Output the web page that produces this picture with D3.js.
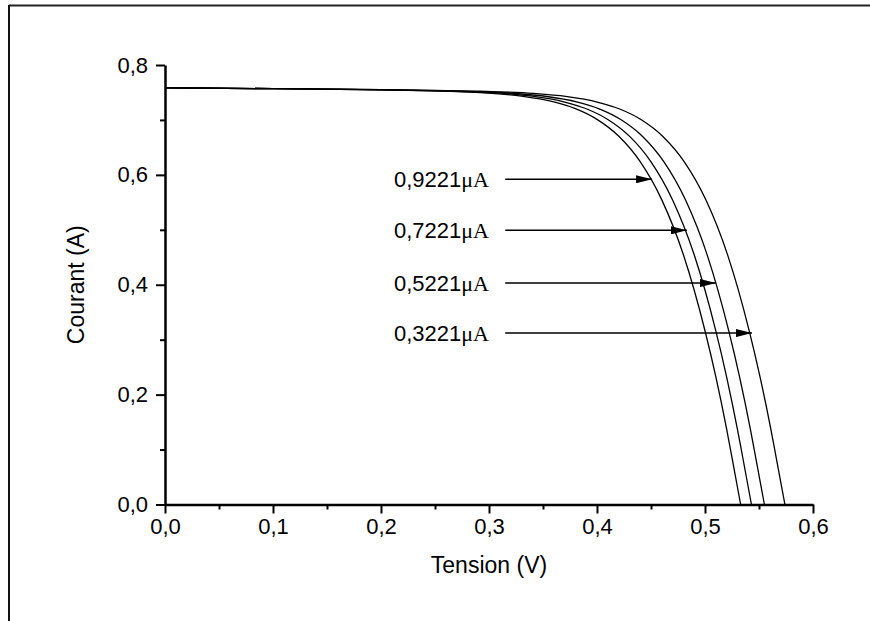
<!DOCTYPE html>
<html>
<head>
<meta charset="utf-8">
<script src="https://cdn.jsdelivr.net/npm/d3@7"></script>
<style>
  body { margin: 0; background: #fff; }
  svg text { font-family: "Liberation Sans", Arial, sans-serif; fill: #000; }
</style>
</head>
<body>
<div id="chart"></div>
<script>
// I-V curves, values (V in volts, I in amperes)
var v1 = [0, 0.1, 0.2, 0.25, 0.3, 0.33, 0.36, 0.38, 0.40, 0.42, 0.44, 0.46, 0.48, 0.50, 0.51, 0.52, 0.525, 0.533];
var i1 = [0.7586, 0.7569, 0.7547, 0.7529, 0.7489, 0.7435, 0.7328, 0.7206, 0.7011, 0.6707, 0.6240, 0.5545, 0.4547, 0.3163, 0.2327, 0.1376, 0.0853, 0];

var v2 = [0, 0.1, 0.2, 0.26, 0.31, 0.34, 0.37, 0.39, 0.41, 0.43, 0.45, 0.47, 0.49, 0.51, 0.52, 0.53, 0.535, 0.543];
var i2 = [0.7586, 0.7569, 0.7548, 0.7527, 0.7487, 0.7433, 0.7326, 0.7204, 0.7009, 0.6705, 0.6238, 0.5543, 0.4545, 0.3161, 0.2325, 0.1374, 0.0851, 0];

var v3 = [0, 0.1, 0.2, 0.25, 0.272, 0.322, 0.352, 0.382, 0.402, 0.422, 0.442, 0.462, 0.482, 0.502, 0.522, 0.532, 0.542, 0.547, 0.555];
var i3 = [0.7586, 0.7569, 0.7550, 0.7534, 0.7525, 0.7485, 0.7431, 0.7324, 0.7202, 0.7007, 0.6703, 0.6236, 0.5541, 0.4543, 0.3159, 0.2323, 0.1372, 0.0849, 0];

var v4 = [0, 0.1, 0.2, 0.25, 0.291, 0.341, 0.371, 0.401, 0.421, 0.441, 0.461, 0.481, 0.501, 0.521, 0.541, 0.551, 0.561, 0.566, 0.574];
var i4 = [0.7586, 0.7569, 0.7551, 0.7537, 0.7522, 0.7482, 0.7428, 0.7321, 0.7199, 0.7004, 0.6700, 0.6233, 0.5538, 0.4540, 0.3156, 0.2320, 0.1369, 0.0846, 0];

// annotation labels and where their arrows sit
var labels = ["0,9221", "0,7221", "0,5221", "0,3221"];
var arrowI = [0.592, 0.499, 0.403, 0.312];
var arrowTipV = [0.451, 0.4833, 0.5102, 0.5435];
var arrowStartV = 0.315;
var labelV = 0.3;

var xMajor = [0, 0.1, 0.2, 0.3, 0.4, 0.5, 0.6];
var xMinor = [0.05, 0.15, 0.25, 0.35, 0.45, 0.55];
var yMajor = [0, 0.2, 0.4, 0.6, 0.8];
var yMinor = [0.1, 0.3, 0.5, 0.7];

var W = 870, H = 621;

var svg = d3.select('#chart')
  .append('svg')
  .attr('width', W)
  .attr('height', H);

// outer frame (top and left edges only are visible)
svg.append('line')
  .attr('x1', 9).attr('y1', 5.5).attr('x2', W).attr('y2', 5.5)
  .attr('stroke', '#222').attr('stroke-width', 2);
svg.append('line')
  .attr('x1', 9).attr('y1', 5).attr('x2', 9).attr('y2', H)
  .attr('stroke', '#111').attr('stroke-width', 2);

var x = d3.scaleLinear().domain([0, 0.6]).range([165, 813]);
var y = d3.scaleLinear().domain([0, 0.8]).range([504.5, 65]);

var fmt = (d) => d3.format('.1f')(d).replace('.', ',');

// minor ticks first
svg.append('g')
  .attr('transform', 'translate(0,' + y(0) + ')')
  .call(d3.axisBottom(x).tickValues(xMinor).tickSize(5).tickFormat(''))
  .call(g => g.select('.domain').remove())
  .call(g => g.selectAll('line').attr('stroke-width', 2));

svg.append('g')
  .attr('transform', 'translate(' + x(0) + ',0)')
  .call(d3.axisLeft(y).tickValues(yMinor).tickSize(5).tickFormat(''))
  .call(g => g.select('.domain').remove())
  .call(g => g.selectAll('line').attr('stroke-width', 2));

// major ticks + labels
var xAxis = svg.append('g')
  .attr('transform', 'translate(0,' + y(0) + ')')
  .call(d3.axisBottom(x).tickValues(xMajor).tickSize(9).tickSizeOuter(0).tickPadding(5).tickFormat(fmt));

var yAxis = svg.append('g')
  .attr('transform', 'translate(' + x(0) + ',0)')
  .call(d3.axisLeft(y).tickValues(yMajor).tickSize(9).tickSizeOuter(0).tickPadding(8).tickFormat(fmt));

[xAxis, yAxis].forEach(function(ax) {
  ax.select('.domain').attr('stroke-width', 2.5);
  ax.selectAll('line').attr('stroke-width', 2);
  ax.selectAll('text').attr('font-size', 22).attr('font-family', '"Liberation Sans", Arial, sans-serif');
});

// axis titles
svg.append('text')
  .attr('x', (x(0) + x(0.6)) / 2)
  .attr('y', 573)
  .attr('text-anchor', 'middle')
  .attr('font-size', 23)
  .text('Tension (V)');

svg.append('text')
  .attr('transform', 'translate(84,' + (y(0.4)) + ') rotate(-90)')
  .attr('text-anchor', 'middle')
  .attr('font-size', 23)
  .text('Courant (A)');

// the four curves
var series = [[v1, i1], [v2, i2], [v3, i3], [v4, i4]];

var line = d3.line()
  .x((d) => x(d[0]))
  .y((d) => y(d[1]))
  .curve(d3.curveMonotoneX);

svg.selectAll('path.iv')
  .data(series)
  .enter().append('path')
  .attr('class', 'iv')
  .attr('fill', 'none')
  .attr('stroke', '#000')
  .attr('stroke-width', 1.3)
  .attr('d', (s) => line(d3.zip(s[0], s[1])));

// arrows
svg.append('defs').append('marker')
  .attr('id', 'head')
  .attr('viewBox', '0 0 16 8')
  .attr('refX', 16).attr('refY', 4)
  .attr('markerWidth', 16).attr('markerHeight', 8)
  .attr('markerUnits', 'userSpaceOnUse')
  .attr('orient', 'auto')
  .append('path')
  .attr('d', 'M0,0 L16,4 L0,8 Z')
  .attr('fill', '#000');

svg.selectAll('line.arrow')
  .data(labels)
  .enter().append('line')
  .attr('class', 'arrow')
  .attr('x1', x(arrowStartV))
  .attr('x2', (d, i) => x(arrowTipV[i]))
  .attr('y1', (d, i) => y(arrowI[i]))
  .attr('y2', (d, i) => y(arrowI[i]))
  .attr('stroke', '#000')
  .attr('stroke-width', 1.5)
  .attr('marker-end', 'url(#head)');

var lab = svg.selectAll('text.lab')
  .data(labels)
  .enter().append('text')
  .attr('class', 'lab')
  .attr('x', x(labelV))
  .attr('y', (d, i) => y(arrowI[i]) + 8)
  .attr('text-anchor', 'end')
  .attr('font-size', 22);

lab.append('tspan').text((d) => d);
lab.append('tspan')
  .attr('font-family', '"Liberation Serif", "Times New Roman", serif')
  .text('\u03bcA');
</script>
</body>
</html>
